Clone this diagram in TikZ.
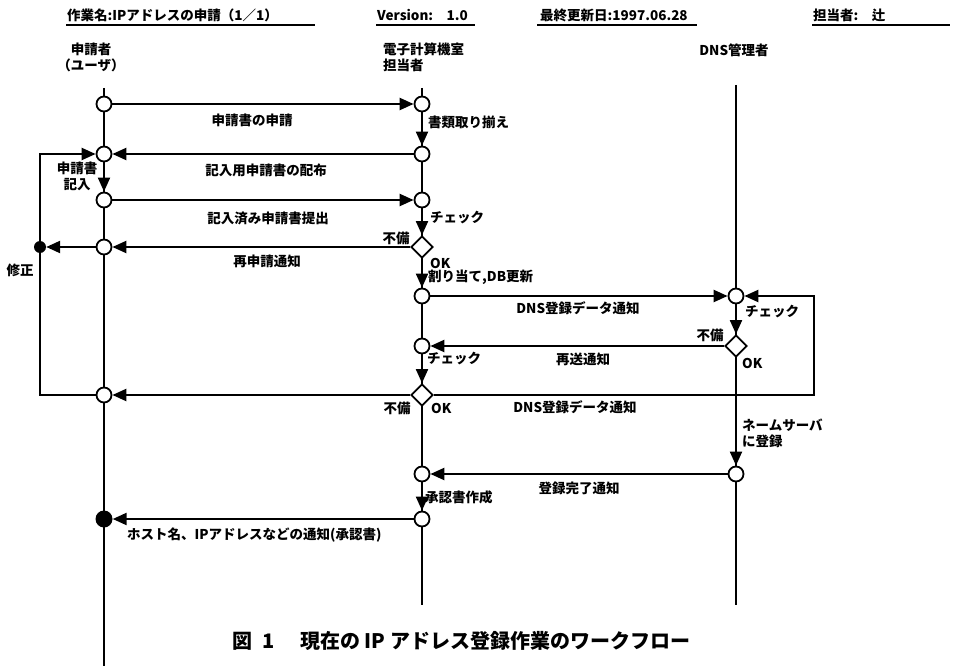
\documentclass[tikz,border=0pt]{standalone}
\usepackage{fontspec}
\setmainfont{Noto Sans CJK JP}
\usetikzlibrary{arrows.meta,shapes.geometric}
\begin{document}
\begin{tikzpicture}[x=1pt,y=-1pt,
  lane/.style={line width=1.7pt},
  flow/.style={line width=2.3pt,-{Triangle[length=14pt,width=12pt]}},
  vflow/.style={line width=2pt,-{Triangle[length=14pt,width=12pt]}},
  pt/.style={circle,draw,fill=white,line width=1.8pt,minimum size=15pt,inner sep=0pt},
  dec/.style={diamond,draw,fill=white,line width=1.8pt,minimum width=22pt,minimum height=22pt,inner sep=0pt},
  endpt/.style={circle,fill=black,minimum size=#1,inner sep=0pt},
  lbl/.style={font=\bfseries\fontsize{13.5}{16}\selectfont,inner sep=0pt},
  hdr/.style={font=\bfseries\fontsize{13.5}{16}\selectfont,inner sep=0pt,anchor=west},
  uline/.style={line width=1.2pt}
]
\useasboundingbox (0,0) rectangle (953,666);
\fill[white] (0,0) rectangle (953,666);

% header
\node[hdr] (h1) at (67,15) {作業名:IPアドレスの申請（1／1）};
\node[hdr] (h2) at (377,15) {Version:\quad 1.0};
\node[hdr] (h3) at (540,15) {最終更新日:1997.06.28};
\node[hdr] (h4) at (813,15) {担当者:\quad 辻};
\coordinate (h1a) at (66,25); \coordinate (h1b) at (315,25);
\coordinate (h2a) at (376,25); \coordinate (h2b) at (475,25);
\coordinate (h3a) at (537,25); \coordinate (h3b) at (697,25);
\coordinate (h4a) at (812,25); \coordinate (h4b) at (950,25);
\draw[uline] (h1a) -- (h1b);
\draw[uline] (h2a) -- (h2b);
\draw[uline] (h3a) -- (h3b);
\draw[uline] (h4a) -- (h4b);

% lane headers
\node[lbl,align=center] (hu) at (91,57) {申請者\\（ユーザ）};
\node[lbl,align=left,anchor=west] (hk) at (383,57) {電子計算機室\\担当者};
\node[lbl] (hn) at (734,50) {DNS管理者};

% lanes
\coordinate (uT) at (104,88); \coordinate (uB) at (104,666);
\coordinate (kT) at (422,88); \coordinate (kB) at (422,605);
\coordinate (nT) at (736,85); \coordinate (nB) at (736,605);
\draw[lane] (uT) -- (uB);
\draw[lane] (kT) -- (kB);
\draw[lane] (nT) -- (nB);

% nodes
\node[pt] (u1) at (104,104) {};
\node[pt] (k1) at (422,104) {};
\node[pt] (u2) at (104,154) {};
\node[pt] (k2) at (422,154) {};
\node[pt] (u3) at (104,200) {};
\node[pt] (k3) at (422,200) {};
\node[pt] (u4) at (104,247) {};
\node[dec] (kd4) at (422,247) {};
\node[endpt=12pt] (fx) at (40,247) {};
\node[pt] (k5) at (422,296) {};
\node[pt] (n5) at (736,296) {};
\node[pt] (k6) at (422,346) {};
\node[dec] (nd6) at (736,346) {};
\node[pt] (u7) at (104,395) {};
\node[dec] (kd7) at (422,395) {};
\node[pt] (k8) at (422,474) {};
\node[pt] (n8) at (736,474) {};
\node[pt] (k9) at (422,519) {};
\node[endpt=17pt] (u9) at (104,519) {};
\coordinate (L7) at (40,395);
\coordinate (R7) at (814,395);

% horizontal flows
\draw[flow] (u1) -- (k1);
\draw[flow] (k2) -- (u2);
\draw[flow] (u3) -- (k3);
\draw[flow] (kd4) -- (u4);
\draw[flow] (u4) -- (fx);
\draw[flow] (k5) -- (n5);
\draw[flow] (nd6) -- (k6);
\draw[flow] (kd7) -- (u7);
\draw[flow] (n8) -- (k8);
\draw[flow] (k9) -- (u9);
% loops
\draw[flow] (u7) -- (L7) |- (u2);
\draw[flow] (kd7) -- (R7) |- (n5);
% vertical flows
\draw[vflow] (k1) -- (k2);
\draw[vflow] (u2) -- (u3);
\draw[vflow] (k3) -- (kd4);
\draw[vflow] (kd4) -- (k5);
\draw[vflow] (n5) -- (nd6);
\draw[vflow] (k6) -- (kd7);
\draw[vflow] (nd6) -- (n8);
\draw[vflow] (k8) -- (k9);

% labels
\node[lbl] (t1) at (252,120) {申請書の申請};
\node[lbl,anchor=west] (t1b) at (428,122) {書類取り揃え};
\node[lbl] (t2) at (266,170) {記入用申請書の配布};
\node[lbl,align=center] (t2b) at (77,176) {申請書\\記入};
\node[lbl] (t3) at (268,218) {記入済み申請書提出};
\node[lbl,anchor=west] (t3b) at (430,218) {チェック};
\node[lbl] (t4a) at (396,238) {不備};
\node[lbl] (t4) at (267,261) {再申請通知};
\node[lbl] (t4b) at (20,270) {修正};
\node[lbl,anchor=west] (t4c) at (430,263) {OK};
\node[lbl,anchor=west] (t4d) at (428,277) {割り当て,DB更新};
\node[lbl] (t5) at (578,308) {DNS登録データ通知};
\node[lbl,anchor=west] (t5b) at (745,312) {チェック};
\node[lbl] (t6a) at (710,335) {不備};
\node[lbl] (t6) at (583,359) {再送通知};
\node[lbl,anchor=west] (t6b) at (427,359) {チェック};
\node[lbl,anchor=west] (t6c) at (742,363) {OK};
\node[lbl] (t7a) at (397,408) {不備};
\node[lbl,anchor=west] (t7b) at (431,408) {OK};
\node[lbl] (t7) at (575,407) {DNS登録データ通知};
\node[lbl,align=left,anchor=north west] (t7c) at (742,419) {ネームサーバ\\に登録};
\node[lbl] (t8) at (579,488) {登録完了通知};
\node[lbl,anchor=west] (t8b) at (425,497) {承認書作成};
\node[lbl,anchor=west] (t9) at (127,535) {ホスト名、IPアドレスなどの通知(承認書)};

% caption
\node[font=\bfseries\fontsize{20}{24}\selectfont,inner sep=0pt,anchor=west] (cap) at (232,641) {図\hspace{0.5em}1\hspace{1.3em}現在の IP アドレス登録作業のワークフロー};
\end{tikzpicture}
\end{document}
